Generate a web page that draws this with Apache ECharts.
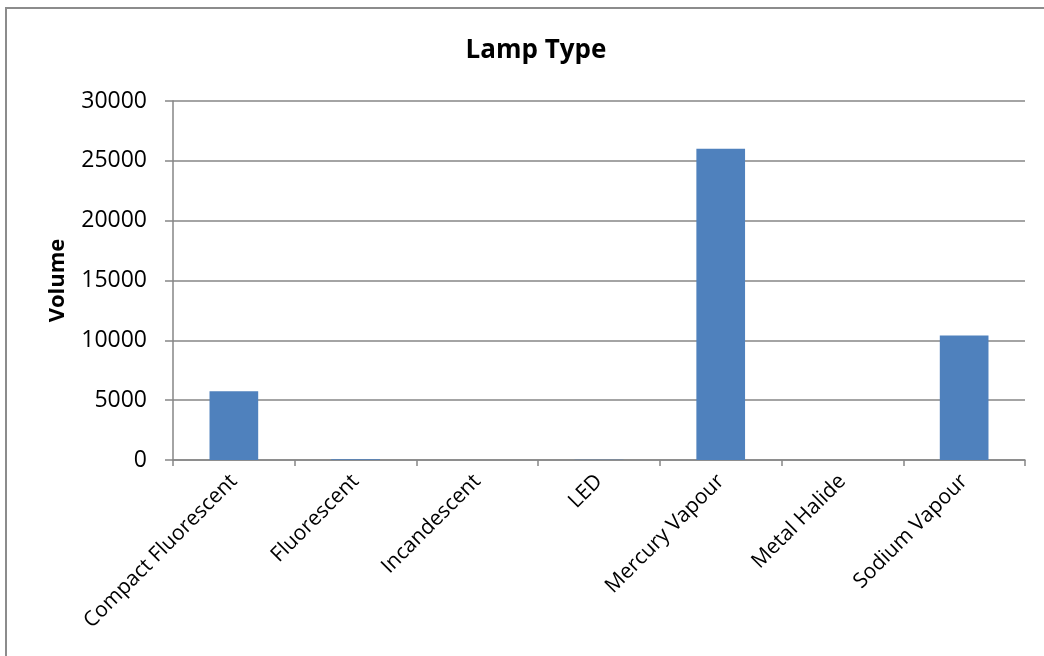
<!DOCTYPE html>
<html>
<head>
<meta charset="utf-8">
<script src="https://cdn.jsdelivr.net/npm/echarts@6/dist/echarts.min.js"></script>
<style>
html,body{margin:0;padding:0;background:#fff;}
#chart{width:1044px;height:656px;}
</style>
</head>
<body>
<div id="chart"></div>
<script>
const categories = ['Compact Fluorescent','Fluorescent','Incandescent','LED','Mercury Vapour','Metal Halide','Sodium Vapour'];
const volumes = [5750, 60, 0, 30, 26000, 0, 10400];
const yTicks = {min: 0, max: 30000, interval: 5000};
const titleText = 'Lamp Type';
const yName = 'Volume';

const FONT = '"Open Sans", sans-serif';
const chart = echarts.init(document.getElementById('chart'));
chart.setOption({
  animation: false,
  backgroundColor: '#fff',
  title: {
    text: titleText, left: 531, top: 33, textAlign: 'center',
    textStyle: {fontFamily: FONT, fontSize: 26, fontWeight: 'bold', color: '#000'}
  },
  graphic: [{
    type: 'rect', shape: {x: 6, y: 8, width: 1200, height: 800},
    style: {fill: 'none', stroke: '#8c8c8c', lineWidth: 2}, silent: true, z: -1
  }],
  grid: {left: 173, right: 19, top: 101, bottom: 196, containLabel: false},
  xAxis: {
    type: 'category', data: categories, boundaryGap: true,
    axisLine: {lineStyle: {color: '#868686', width: 1.5}},
    axisTick: {show: true, length: 6, lineStyle: {color: '#868686', width: 1.5}},
    axisLabel: {rotate: 45, margin: 18, fontFamily: FONT, fontSize: 21, color: '#000', interval: 0}
  },
  yAxis: {
    type: 'value', min: yTicks.min, max: yTicks.max, interval: yTicks.interval,
    name: yName, nameLocation: 'middle', nameGap: 104, nameRotate: 90,
    nameTextStyle: {fontFamily: FONT, fontSize: 22, fontWeight: 'bold', color: '#000'},
    axisLine: {show: true, lineStyle: {color: '#868686', width: 1.5}},
    axisTick: {show: true, length: 8, lineStyle: {color: '#868686', width: 1.5}},
    splitLine: {lineStyle: {color: '#868686', width: 1.5}},
    axisLabel: {margin: 26, fontFamily: FONT, fontSize: 23, color: '#000', formatter: v => String(v)}
  },
  series: [{
    type: 'bar', data: volumes, barWidth: '40%',
    itemStyle: {color: '#4F81BD', borderWidth: 0}
  }]
});
</script>
</body>
</html>
